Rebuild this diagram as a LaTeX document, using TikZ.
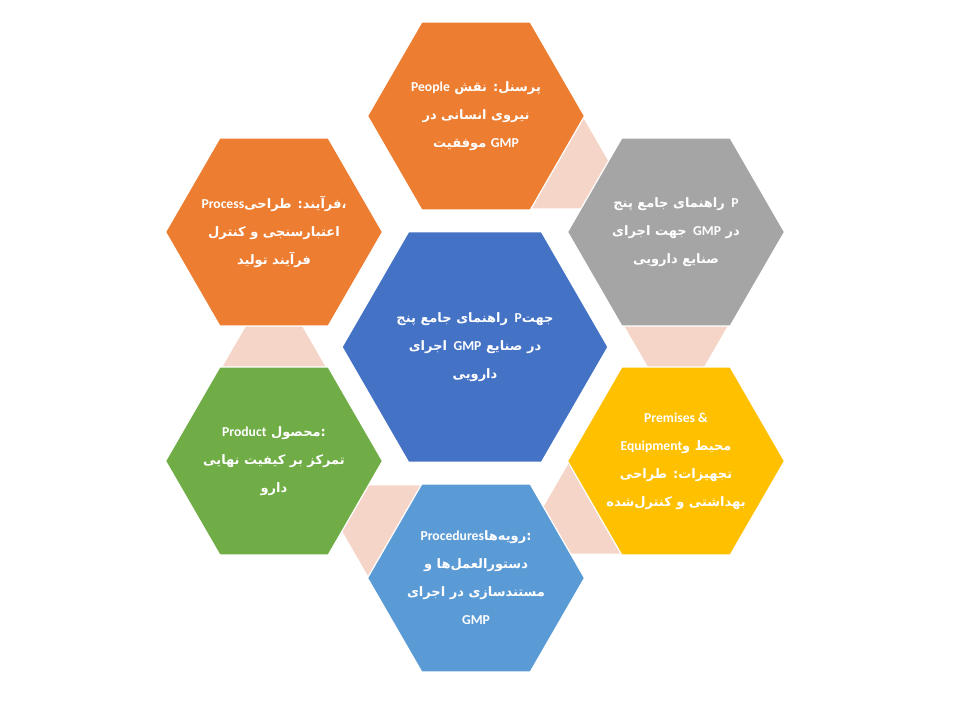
\documentclass[tikz,border=0pt]{standalone}
\usepackage{fontspec}
\usetikzlibrary{shapes.geometric,calc,backgrounds}
\TeXXeTstate=1
\newfontfamily\farsifont[Script=Arabic]{DejaVu Sans}
\newfontfamily\latinfont[Scale=1.05]{Carlito}
\definecolor{hexorange}{HTML}{ED7D31}
\definecolor{hexgrey}{HTML}{A5A5A5}
\definecolor{hexyellow}{HTML}{FFC000}
\definecolor{hexblue}{HTML}{4472C4}
\definecolor{hexlightblue}{HTML}{5B9BD5}
\definecolor{hexgreen}{HTML}{70AD47}
\definecolor{linkpink}{HTML}{F6D5C9}
\newcommand{\outersize}{217pt}
\newcommand{\innersize}{266pt}
\newcommand{\linksize}{106pt}
\newcommand{\lat}[1]{{\latinfont #1}}

\begin{document}
\begin{tikzpicture}[x=1pt,y=-1pt,
    hex/.style={regular polygon, regular polygon sides=6, minimum size=\outersize,
        inner sep=0pt, draw=white, line width=1.2pt},
    linkhex/.style={regular polygon, regular polygon sides=6, minimum size=\linksize,
        inner sep=0pt, fill=linkpink},
    hexlabel/.style={text=white, align=center,
        font=\farsifont\bfseries\fontsize{13}{28}\selectfont}]
    \useasboundingbox (0,0) rectangle (960,720);

    % hexagons
    \node (centre) at (475,347) [hex, minimum size=\innersize, fill=hexblue] {};
    \node (people) at (476,116) [hex, fill=hexorange] {};
    \node (guide) at (676,232) [hex, fill=hexgrey] {};
    \node (premises) at (676,461) [hex, fill=hexyellow] {};
    \node (procedures) at (476,578) [hex, fill=hexlightblue] {};
    \node (product) at (274,461) [hex, fill=hexgreen] {};
    \node (process) at (274,232) [hex, fill=hexorange] {};

    % links between neighbouring hexagons, behind them
    \begin{scope}[on background layer]
        \node (link1) at ($(people)!0.4!(guide)$) [linkhex] {};
        \node (link2) at ($(guide)!0.4!(premises)$) [linkhex] {};
        \node (link3) at ($(premises)!0.4!(procedures)$) [linkhex] {};
        \node (link4) at ($(procedures)!0.4!(product)$) [linkhex] {};
        \node (link5) at ($(product)!0.4!(process)$) [linkhex] {};
    \end{scope}

    % labels
    \node (centretext) at (centre) [hexlabel] {%
        \beginR راهنمای جامع پنج\endR\enspace\lat{P}\beginR جهت\endR\\
        \beginR اجرای\endR\enspace\lat{GMP} \beginR در صنایع\endR\\
        \beginR دارویی\endR};
    \node (peopletext) at (people) [hexlabel] {%
        \lat{People} \beginR پرسنل: نقش\endR\\
        \beginR نیروی انسانی در\endR\\
        \beginR موفقیت\endR{} \lat{GMP}};
    \node (guidetext) at (guide) [hexlabel] {%
        \beginR راهنمای جامع پنج\endR\enspace\lat{P}\\
        \beginR جهت اجرای\endR\enspace\lat{GMP} \beginR در\endR\\
        \beginR صنایع دارویی\endR};
    \node (premisestext) at (premises) [hexlabel] {%
        \lat{Premises \&}\\
        \lat{Equipment}\beginR محیط و\endR\\
        \beginR تجهیزات: طراحی\endR\\
        \beginR بهداشتی و کنترل^^^^200cشده\endR};
    \node (procedurestext) at (procedures) [hexlabel] {%
        \lat{Procedures}\beginR رویه^^^^200cها\endR:\\
        \beginR دستورالعمل^^^^200cها و\endR\\
        \beginR مستندسازی در اجرای\endR\\
        \lat{GMP}};
    \node (producttext) at (product) [hexlabel] {%
        \lat{Product} \beginR محصول\endR:\\
        \beginR تمرکز بر کیفیت نهایی\endR\\
        \beginR دارو\endR};
    \node (processtext) at (process) [hexlabel] {%
        \lat{Process}\beginR فرآیند: طراحی\endR،\\
        \beginR اعتبارسنجی و کنترل\endR\\
        \beginR فرآیند تولید\endR};
\end{tikzpicture}
\end{document}
